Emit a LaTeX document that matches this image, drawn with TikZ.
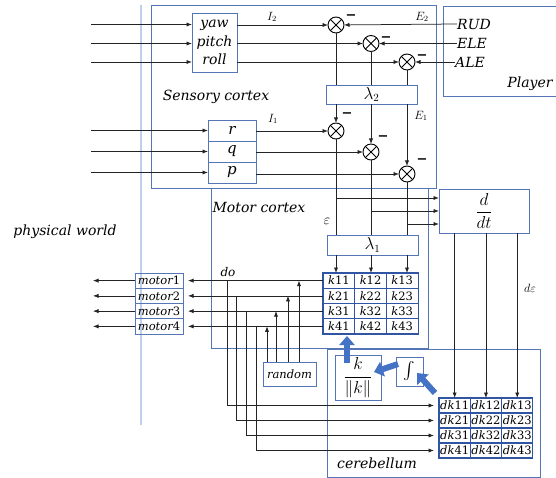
\documentclass[tikz,border=0pt]{standalone}
\usepackage{amsmath}
\usepackage{fontspec}
\setmainfont{DejaVu Serif}
\usetikzlibrary{arrows.meta,calc}
\definecolor{bc}{RGB}{84,118,182}
\definecolor{mc}{RGB}{47,85,164}
\definecolor{lb}{RGB}{190,208,236}
\definecolor{lc}{RGB}{35,35,35}
\definecolor{ba}{RGB}{68,114,196}
\tikzset{
  bx/.style={draw=bc, line width=0.9pt, inner sep=0pt, outer sep=0pt, anchor=north west},
  cellbox/.style={draw=mc, line width=1.1pt, inner sep=0pt, outer sep=0pt, anchor=north west, font=\fontsize{11.5}{13}\selectfont},
  ln/.style={draw=lc, line width=0.75pt},
  ar/.style={ln, -{Latex[length=5.5pt,width=4.2pt]}},
  ox/.style={circle, draw=black, line width=0.9pt, minimum size=16pt, inner sep=0pt, outer sep=0pt},
  lab/.style={font=\fontsize{14}{16}\selectfont\itshape, inner sep=0pt},
  mlab/.style={font=\fontsize{14}{16}\selectfont\itshape, inner sep=0pt},
  slab/.style={font=\fontsize{12}{13}\selectfont\itshape, inner sep=0pt},
  minus/.style={font=\fontsize{13}{14}\selectfont\bfseries, inner sep=0pt},
  mathlab/.style={font=\fontsize{12}{13}\selectfont, inner sep=0pt},
  bigarr/.style={draw=ba, line width=6pt, -{Triangle[length=9pt,width=15pt]}},
}
\begin{document}
\begin{tikzpicture}[x=1pt,y=-1pt]
\useasboundingbox (0,0) rectangle (556,478);
% physical world boundary
\draw[lb, line width=1.2pt] (141,5) -- (141,425);
\node[lab] (pw) at (65,232) {physical world};
% Sensory cortex
\node[bx, minimum width=285, minimum height=183] (sens) at (151,5) {};
\node[mlab] (senslab) at (216,97) {Sensory cortex};
% Player
\draw[bc, line width=0.9pt] (556,6) -- (443,6) -- (443,96) -- (556,96);
\node[lab] (player) at (530,84) {Player};
% Motor cortex
\node[bx, minimum width=217, minimum height=160] (mot) at (211,188) {};
\node[mlab] (motlab) at (259,207) {Motor cortex};
% Cerebellum
\node[bx, minimum width=213, minimum height=128] (cer) at (327,349) {};
\node[mlab] (cerlab) at (377,463) {cerebellum};
% yaw pitch roll
\node[bx, minimum width=45, minimum height=59, align=center, font=\fontsize{14}{18.5}\selectfont\itshape] (ypr) at (192,13) {yaw\\pitch\\roll};
% r q p
\node[bx, minimum width=48, minimum height=21, font=\fontsize{15}{16}\selectfont\itshape] (r) at (208,120) {r};
\node[bx, minimum width=48, minimum height=21, font=\fontsize{15}{16}\selectfont\itshape] (q) at (208,141) {q};
\node[bx, minimum width=48, minimum height=21, font=\fontsize{15}{16}\selectfont\itshape] (p) at (208,162) {p};
% circles
\foreach \n/\x/\y in {c1/336/25, c2/371/43.5, c3/407/62, c4/336/131, c5/371/152, c6/407/174} {
  \node[ox] (\n) at (\x,\y) {};
  \draw[line width=0.9pt] (\n.north west) -- (\n.south east) (\n.north east) -- (\n.south west);
}
% lambda boxes
\node[bx, minimum width=91, minimum height=19, font=\fontsize{16}{18}\selectfont] (l2) at (326,85) {$\lambda_2$};
\node[bx, minimum width=91, minimum height=20, font=\fontsize{16}{18}\selectfont] (l1) at (327,235) {$\lambda_1$};
% d/dt
\node[bx, minimum width=90, minimum height=44, font=\fontsize{16}{18}\selectfont] (ddt) at (439,189) {$\dfrac{d}{dt}$};
% player signals
\node[lab, anchor=west] (RUD) at (457,24) {RUD};
\node[lab, anchor=west] (ELE) at (457,43.5) {ELE};
\node[lab, anchor=west] (ALE) at (455,62) {ALE};
% inputs
\foreach \i/\y in {1/24.5,2/43.5,3/62} {
  \coordinate (in\i) at (91,\y);
  \draw[ar] (in\i) -- (in\i -| ypr.west);
}
\foreach \i/\b/\y in {4/r/130.5,5/q/151.5,6/p/172.5} {
  \coordinate (in\i) at (91,\y);
  \draw[ar] (in\i) -- (in\i -| \b.west);
}
% ypr to circles
\draw[ar] (ypr.east |- c1) -- (c1);
\draw[ar] (ypr.east |- c2) -- (c2);
\draw[ar] (ypr.east |- c3) -- (c3);
\draw[ar] (RUD.west) -- (c1);
\draw[ar] (ELE.west) -- (c2);
\draw[ar] (ALE.west) -- (c3);
% rqp to circles
\draw[ar] (r.east |- c4) -- (c4);
\draw[ar] (q.east |- c5) -- (c5);
\draw[ar] (p.east |- c6) -- (c6);
% circles to lambda2
\draw[ln] (c1) -- (c1 |- l2.north);
\draw[ln] (c2) -- (c2 |- l2.north);
\draw[ln] (c3) -- (c3 |- l2.north);
% lambda2 to lower circles
\draw[ar] (l2.south -| c4) -- (c4);
\draw[ar] (l2.south -| c5) -- (c5);
\draw[ar] (l2.south -| c6) -- (c6);
% lower circles to lambda1
\draw[ln] (c4) -- (c4 |- l1.north);
\draw[ln] (c5) -- (c5 |- l1.north);
\draw[ln] (c6) -- (c6 |- l1.north);
% branches to d/dt
\foreach \c/\y [count=\i] in {c4/198,c5/211,c6/224} {
  \coordinate (br\i) at (\c |- 0,\y);
  \draw[ar] (br\i) -- (br\i -| ddt.west);
}
% labels
\node[mathlab] (I2) at (272,17) {$I_2$};
\node[mathlab] (E2) at (422,17) {$E_2$};
\node[mathlab] (I1) at (273,119) {$I_1$};
\node[mathlab] (E1) at (421,116) {$E_1$};
\node[font=\fontsize{14}{14}\selectfont, inner sep=0pt] (eps) at (327,221) {$\varepsilon$};
\node[mathlab] (deps) at (530,288) {$d\varepsilon$};
\node[slab] (do) at (228,272) {do};
% minus signs
\foreach \n/\x/\y in {mi1/351/17, mi2/386/39, mi3/422/57, mi4/347/115, mi5/383/138, mi6/422/161} {
  \node[minus] (\n) at (\x,\y) {−};
}
% k matrix
\foreach \r in {1,...,4} {
  \foreach \c in {1,2,3} {
    \node[cellbox, minimum width=31.7, minimum height=15.25] (k\r\c) at ({323+31.7*(\c-1)},{273+15.25*(\r-1)}) {\textit{k}\r\c};
  }
}
% lambda1 to k
\draw[ar] (l1.south -| c4) -- (c4 |- k11.north);
\draw[ar] (l1.south -| c5) -- (c5 |- k12.north);
\draw[ar] (l1.south -| c6) -- (c6 |- k13.north);
% motors
\coordinate (ox) at (93,0);
\foreach \i in {1,...,4} {
  \node[bx, minimum width=48, minimum height=15.25, font=\fontsize{11.5}{13}\selectfont\itshape] (m\i) at (135,{273+15.25*(\i-1)}) {motor\upshape\i};
  \draw[ar, shorten >=5pt] (k\i1.west) -- (k\i1.west -| m\i.east);
  \draw[ar] (m\i.west) -- (m\i.west -| ox);
}
% random
\node[bx, minimum width=53, minimum height=24, font=\fontsize{11.5}{13}\selectfont\itshape] (rnd) at (263,362) {random};
\foreach \i/\x in {1/299,2/288,3/276,4/267} {
  \coordinate (rv\i) at (\x,0);
  \draw[ar] (rnd.north -| rv\i) -- (rv\i |- k\i1.west);
}
% cerebellum blocks
\node[bx, minimum width=46, minimum height=45, font=\fontsize{16}{18}\selectfont] (kn) at (335,355) {$\dfrac{k}{\|k\|}$};
\node[bx, minimum width=27, minimum height=29, font=\fontsize{16}{18}\selectfont] (int) at (396,357) {$\int$};
% dk matrix
\foreach \r in {1,...,4} {
  \foreach \c in {1,2,3} {
    \node[cellbox, minimum width=31.3, minimum height=15] (dk\r\c) at ({439+31.3*(\c-1)},{398+15*(\r-1)}) {\textit{dk}\r\c};
  }
}
% do lines
\foreach \i/\x in {1/227,2/236,3/246,4/256} {
  \coordinate (dv\i) at (\x,0);
  \draw[ar, shorten >=5pt] (dv\i |- k\i1.west) |- (dk\i1.west);
}
% d/dt to dk
\draw[ar] (ddt.south -| dk11) -- (dk11.north);
\draw[ar] (ddt.south -| dk12) -- (dk12.north);
\draw[ar] (ddt.south -| dk13) -- (dk13.north);
% blue arrows
\draw[bigarr] ($(int.north west)+(2,7)$) -- ($(kn.north east)+(-7,17)$);
\draw[bigarr] ($(dk11.north west)+(-4,-5)$) -- ($(int.south east)+(-6,-13)$);
\draw[bigarr] ($(kn.north west)+(12,8)$) -- ($(k41.south west)+(24,2)$);
\end{tikzpicture}
\end{document}
